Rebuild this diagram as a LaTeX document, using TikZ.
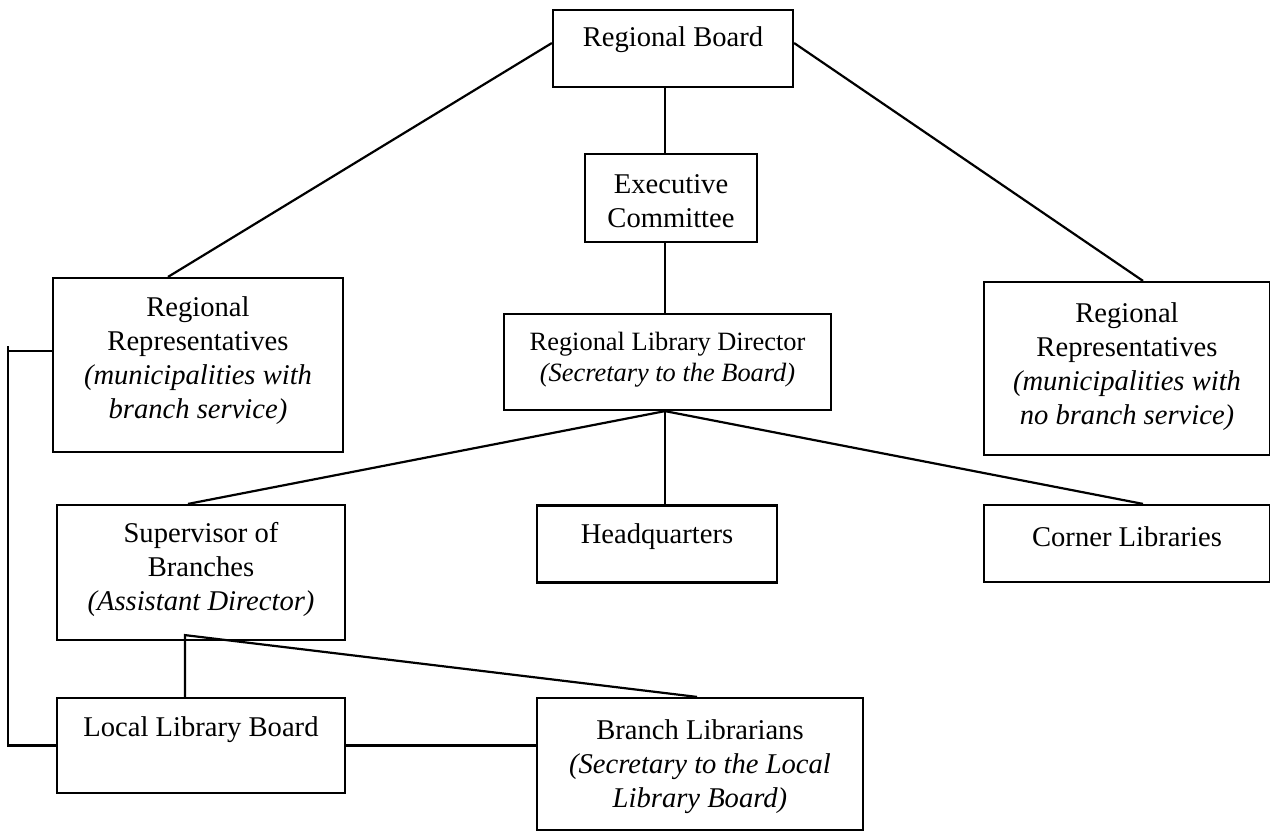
\documentclass[tikz,border=0pt]{standalone}
\usepackage{fontspec}
\setmainfont{Liberation Serif}
\usetikzlibrary{positioning}
\tikzset{
  orgbox/.style={draw, line width=1.1pt, inner sep=0pt},
  boxtext/.style={align=center, inner sep=0pt, font=\fontsize{14.3pt}{17pt}\selectfont},
  link/.style={line width=1.1pt}
}
\begin{document}
\begin{tikzpicture}[x=0.5pt, y=-0.5pt]
    \useasboundingbox (0,0) rectangle (1270,832);

    \node[orgbox, minimum width=120pt, minimum height=38.5pt] (board) at (673,48.5) {};
    \node[orgbox, minimum width=86pt, minimum height=44pt] (exec) at (671,198) {};
    \node[orgbox, minimum width=163.5pt, minimum height=48pt] (director) at (667.5,362) {};
    \node[orgbox, minimum width=145pt, minimum height=87pt] (rrleft) at (198,365) {};
    \node[orgbox, minimum width=143pt, minimum height=86.5pt] (rrright) at (1127,368.5) {};
    \node[orgbox, minimum width=144pt, minimum height=67.5pt] (super) at (201,572.5) {};
    \node[orgbox, minimum width=120pt, minimum height=38.5pt] (headq) at (657,544) {};
    \node[orgbox, minimum width=143pt, minimum height=38.5pt] (corner) at (1127,543.5) {};
    \node[orgbox, minimum width=144pt, minimum height=47.5pt] (llb) at (201,745.5) {};
    \node[orgbox, minimum width=163pt, minimum height=66pt] (branchlib) at (700,764) {};

    \node[boxtext, below=8.5pt of board.north] (boardtxt) {Regional Board};
    \node[boxtext, below=10.5pt of exec.north] (exectxt) {Executive\\Committee};
    \node[boxtext, below=9.5pt of director.north, font=\fontsize{13.2pt}{15.5pt}\selectfont] (directortxt)
        {Regional Library Director\\\textit{(Secretary to the Board)}};
    \node[boxtext, below=9.5pt of rrleft.north] (rrlefttxt)
        {Regional\\Representatives\\\textit{(municipalities with}\\\textit{branch service)}};
    \node[boxtext, below=10.5pt of rrright.north] (rrrighttxt)
        {Regional\\Representatives\\\textit{(municipalities with}\\\textit{no branch service)}};
    \node[boxtext, below=9pt of super.north] (supertxt)
        {Supervisor of\\Branches\\\textit{(Assistant Director)}};
    \node[boxtext, below=9.5pt of headq.north] (headqtxt) {Headquarters};
    \node[boxtext, below=11pt of corner.north] (cornertxt) {Corner Libraries};
    \node[boxtext, below=9.5pt of llb.north] (llbtxt) {Local Library Board};
    \node[boxtext, below=11pt of branchlib.north] (branchlibtxt)
        {Branch Librarians\\\textit{(Secretary to the Local}\\\textit{Library Board)}};

    \coordinate (spine) at (665,0);
    \coordinate (rail) at (8,346);

    \draw[link] (board.south -| spine) -- (exec.north -| spine);
    \draw[link] (exec.south -| spine) -- (director.north -| spine);
    \draw[link] ([yshift=2.75pt]board.west) -- ([xshift=-15pt]rrleft.north);
    \draw[link] ([yshift=2.75pt]board.east) -- ([xshift=8pt]rrright.north);

    \draw[link] (director.south -| spine) -- ([xshift=-6.5pt]super.north);
    \draw[link] (director.south -| spine) -- (headq.north -| spine);
    \draw[link] (director.south -| spine) -- ([xshift=8pt]corner.north);

    \draw[link] ([xshift=-8pt]llb.north) -- ([xshift=-8pt,yshift=3pt]super.south) -- ([xshift=-1.5pt]branchlib.north);
    \draw[link] (llb.east) -- (llb.east -| branchlib.west);

    \draw[link] ([yshift=7pt]rrleft.west) -- ([yshift=7pt]rrleft.west -| rail);
    \draw[link] (rail) |- (llb.west);
\end{tikzpicture}
\end{document}
